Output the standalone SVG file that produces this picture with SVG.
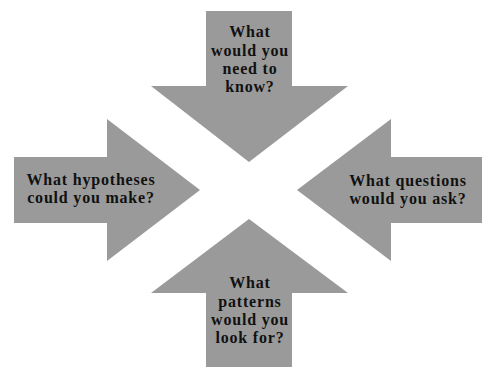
<svg xmlns="http://www.w3.org/2000/svg" width="482" height="367" viewBox="0 0 482 367">
<style>
.arrow{fill:#9a9a9a;}
.lbl{font-family:"Liberation Serif","Times New Roman",serif;font-weight:bold;font-size:16px;letter-spacing:0.8px;fill:#111;text-anchor:middle;}
</style>
<rect width="482" height="367" fill="#fff"/>
<g id="top">
<polygon class="arrow" points="206,11 292,11 292,86 348,86 249,162 151,86 206,86"/>
<text class="lbl" x="250" y="37">What</text>
<text class="lbl" x="250" y="56">would you</text>
<text class="lbl" x="250" y="74">need to</text>
<text class="lbl" x="250" y="92">know?</text>
</g>
<g id="left">
<polygon class="arrow" points="14,157 107,157 107,119 200,190 107,261 107,223 14,223"/>
<text class="lbl" x="91" y="185">What hypotheses</text>
<text class="lbl" x="91" y="203">could you make?</text>
</g>
<g id="right">
<polygon class="arrow" points="482,157 391,157 391,119 297,190 391,261 391,223 482,223"/>
<text class="lbl" x="408" y="186">What questions</text>
<text class="lbl" x="408" y="204">would you ask?</text>
</g>
<g id="bottom">
<polygon class="arrow" points="249,219 348,293 292,293 292,367 206,367 206,293 151,293"/>
<text class="lbl" x="250" y="288">What</text>
<text class="lbl" x="250" y="307">patterns</text>
<text class="lbl" x="250" y="325">would you</text>
<text class="lbl" x="250" y="343">look for?</text>
</g>
<g id="connectors"></g>
</svg>
